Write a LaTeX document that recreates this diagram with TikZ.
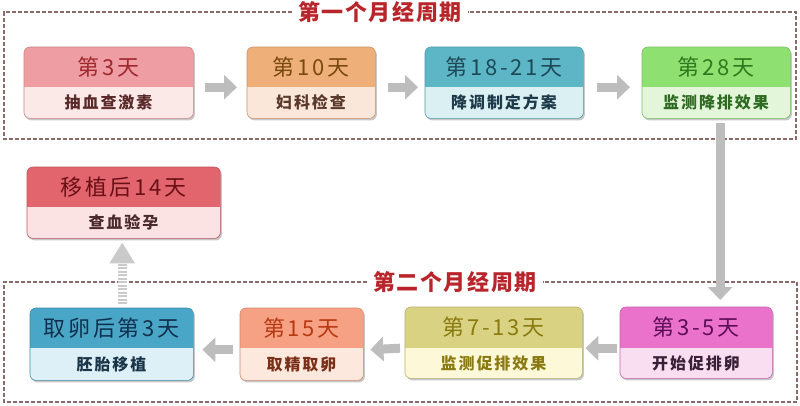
\documentclass[tikz,border=0pt]{standalone}
\usepackage{fontspec}
\setmainfont{Noto Sans CJK SC}
\newfontfamily\headfont[LetterSpace=12]{Noto Sans CJK SC}
\newfontfamily\bodyfont[LetterSpace=12]{Noto Sans CJK SC}
\newfontfamily\titlefont[LetterSpace=7]{Noto Sans CJK SC}
\usetikzlibrary{arrows.meta,calc}
\definecolor{p1H}{HTML}{EE9EA2}\definecolor{p1B}{HTML}{FBE9E8}\definecolor{p1T}{HTML}{A0282E}\definecolor{p1S}{HTML}{5A2A2A}
\definecolor{p2H}{HTML}{EEAF78}\definecolor{p2B}{HTML}{FBE6DA}\definecolor{p2T}{HTML}{7A4A12}\definecolor{p2S}{HTML}{5A3A2A}
\definecolor{p3H}{HTML}{5DB6C6}\definecolor{p3B}{HTML}{DAF0F3}\definecolor{p3T}{HTML}{1E4A58}\definecolor{p3S}{HTML}{1E3A4A}
\definecolor{p4H}{HTML}{8EE070}\definecolor{p4B}{HTML}{E3F6DA}\definecolor{p4T}{HTML}{2E7A1E}\definecolor{p4S}{HTML}{2E6A22}
\definecolor{p5H}{HTML}{E2646C}\definecolor{p5B}{HTML}{FCE3E3}\definecolor{p5T}{HTML}{6A1018}\definecolor{p5S}{HTML}{4A2A2A}
\definecolor{p6H}{HTML}{4AA6C6}\definecolor{p6B}{HTML}{DDF0F8}\definecolor{p6T}{HTML}{10304E}\definecolor{p6S}{HTML}{1A3448}
\definecolor{p7H}{HTML}{F6A184}\definecolor{p7B}{HTML}{FDE8DE}\definecolor{p7T}{HTML}{B83A12}\definecolor{p7S}{HTML}{7A3018}
\definecolor{p8H}{HTML}{D9D282}\definecolor{p8B}{HTML}{FCF8D8}\definecolor{p8T}{HTML}{8A7A10}\definecolor{p8S}{HTML}{8A7A10}
\definecolor{p9H}{HTML}{EA72CA}\definecolor{p9B}{HTML}{F9DEF2}\definecolor{p9T}{HTML}{5E0E58}\definecolor{p9S}{HTML}{3A2036}
\definecolor{framec}{HTML}{8C6A6A}
\definecolor{titlec}{HTML}{B8252A}
\definecolor{arrowc}{HTML}{BDBDBD}
\tikzset{
  headtxt/.style={font=\headfont\fontsize{22}{22}\selectfont, inner sep=0pt},
  bodytxt/.style={font=\bodyfont\fontsize{16}{16}\selectfont\bfseries, inner sep=0pt},
  frameline/.style={draw=framec, line width=1.3pt, dash pattern=on 4pt off 2pt},
  cycletitle/.style={font=\titlefont\fontsize{22}{22}\selectfont\bfseries, text=titlec, inner xsep=6pt, inner ysep=0pt},
  garrow/.style={draw=arrowc, line width=9pt, -{Triangle[length=13pt,width=24pt]}},
}
\newcommand\phasebox[9]{%
  \node[inner sep=0pt, minimum width={(#4-#2)*1pt}, minimum height={(#5-#3)*1pt}, anchor=north west] (#1) at (#2,{405-#3}) {};
  \fill[black!22, rounded corners=6pt] ($(#1.south west)+(1.5,-2)$) rectangle ($(#1.north east)+(1.5,-2)$);
  \fill[#7B, rounded corners=6pt] (#1.south west) rectangle (#1.north east);
  \begin{scope}
    \clip[rounded corners=6pt] (#1.south west) rectangle (#1.north east);
    \fill[#7H] (#1.north west) rectangle (#4,{405-#6});
  \end{scope}
  \draw[#7H!85!black, line width=0.6pt, rounded corners=6pt] (#1.south west) rectangle (#1.north east);
  \node[headtxt, text=#7T] (#1-h) at ({(#2+#4)/2},{405-(#3+#6)/2}) {#8};
  \node[bodytxt, text=#7S] (#1-b) at ({(#2+#4)/2},{405-(#6+#5)/2}) {#9};
}
\begin{document}
\begin{tikzpicture}[x=1pt,y=1pt]
\fill[white] (0,0) rectangle (800,405);
\useasboundingbox (0,0) rectangle (800,405);

% frames
\node[cycletitle] (t1) at (380,{405-12}) {第一个月经周期};
\draw[frameline] (t1.west) -- (4,{405-12}) -- (4,{405-139}) -- (796,{405-139}) -- (796,{405-12}) -- (t1.east);
\node[cycletitle] (t2) at (455,{405-282}) {第二个月经周期};
\draw[frameline] (t2.west) -- (4,{405-282}) -- (4,{405-402}) -- (797,{405-402}) -- (797,{405-282}) -- (t2.east);

% boxes
\phasebox{b1}{24}{47}{193}{118}{87}{p1}{第3天}{抽血查激素}
\phasebox{b2}{247}{47}{375}{118}{87}{p2}{第10天}{妇科检查}
\phasebox{b3}{425}{47}{583}{118}{87}{p3}{第18-21天}{降调制定方案}
\phasebox{b4}{642}{47}{790}{118}{87}{p4}{第28天}{监测降排效果}
\phasebox{b5}{27}{167}{220}{238}{207}{p5}{移植后14天}{查血验孕}
\phasebox{b6}{30}{308}{193}{380}{348}{p6}{取卵后第3天}{胚胎移植}
\phasebox{b7}{240}{308}{363}{380}{348}{p7}{第15天}{取精取卵}
\phasebox{b8}{405}{307}{582}{378}{348}{p8}{第7-13天}{监测促排效果}
\phasebox{b9}{620}{307}{772}{378}{348}{p9}{第3-5天}{开始促排卵}

% arrows, first cycle
\draw[garrow] ($(b1.east)+(12,-4.5)$) -- ($(b2.west)+(-10,-4.5)$);
\draw[garrow] ($(b2.east)+(13,-4.5)$) -- ($(b3.west)+(-7,-4.5)$);
\draw[garrow] ($(b3.east)+(14,-4.5)$) -- ($(b4.west)+(-12,-4.5)$);
% down to second cycle
\draw[garrow] ($(b4.south)+(4,-5)$) -- ($(b9.north)+(24,7)$);
% arrows, second cycle
\draw[garrow] ($(b9.west)+(-3,-5.5)$) -- ($(b8.east)+(3,-5.5)$);
\draw[garrow] ($(b8.west)+(-5,-5.5)$) -- ($(b7.east)+(7,-5.5)$);
\draw[garrow] ($(b7.west)+(-7,-5.5)$) -- ($(b6.east)+(9,-5.5)$);
% up to pregnancy test
\draw[draw=arrowc!80, line width=9pt, dash pattern=on 2pt off 1.5pt, -{Triangle[length=21pt,width=24pt]}] ($(b6.north)+(10.5,4)$) -- ($(b5.south)+(-1.5,-4)$);
\end{tikzpicture}
\end{document}
